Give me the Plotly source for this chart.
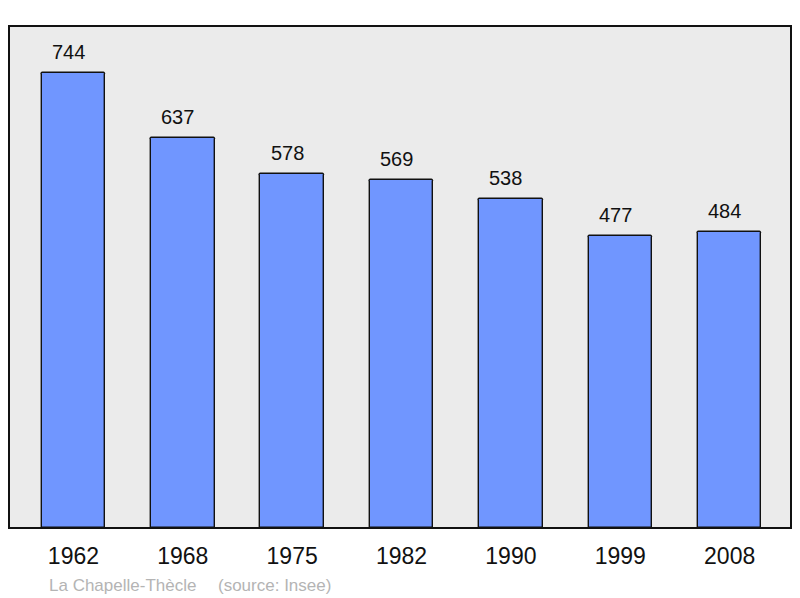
import plotly.graph_objects as go

years = ["1962", "1968", "1975", "1982", "1990", "1999", "2008"]
population = [744, 637, 578, 569, 538, 477, 484]
town = "La Chapelle-Thècle"
source = "(source: Insee)"

# page body adds an 8px offset, so the figure is sized to fit the window
OFF = 8
W, H = 792, 590
L, R, T, B = 9 - OFF, 9, 26 - OFF, 70
plot_w = W - L - R

xs = list(range(len(years)))

fig = go.Figure()
fig.add_trace(go.Bar(
    x=xs, y=population, width=0.58,
    marker=dict(color="#7096ff", line=dict(color="#111111", width=1.4), cornerradius=2),
    hoverinfo="skip",
))

for x, v in zip(xs, population):
    fig.add_annotation(x=x, y=v, text=str(v), showarrow=False, yanchor="middle",
                       yshift=21, xshift=-5,
                       font=dict(size=20, color="#111111", family="Liberation Sans"))

fig.add_annotation(xref="paper", yref="paper", x=(47 - 9) / plot_w, y=0, yshift=-57,
                   xanchor="left", yanchor="middle", text=town, showarrow=False,
                   font=dict(size=17, color="#b4b4b4", family="Liberation Sans"))
fig.add_annotation(xref="paper", yref="paper", x=(216 - 9) / plot_w, y=0, yshift=-57,
                   xanchor="left", yanchor="middle", text=source, showarrow=False,
                   font=dict(size=17, color="#b4b4b4", family="Liberation Sans"))

fig.add_shape(type="rect", xref="paper", yref="paper", x0=0, y0=0, x1=1, y1=1,
              line=dict(color="#111111", width=2), layer="above")

fig.update_layout(
    width=W, height=H,
    margin=dict(l=L, r=R, t=T, b=B),
    paper_bgcolor="white", plot_bgcolor="#ebebeb",
    showlegend=False,
    bargap=0,
    xaxis=dict(range=[-0.589, 6.561], tickvals=xs, ticktext=years, ticks="",
               showgrid=False, zeroline=False, showline=False,
               tickfont=dict(size=23, color="#111111", family="Liberation Sans"),
               ticklabelstandoff=12, fixedrange=True),
    yaxis=dict(range=[0, 820], showticklabels=False, showgrid=False, zeroline=False,
               showline=False, ticks="", fixedrange=True),
)

fig.write_html("out.html")
